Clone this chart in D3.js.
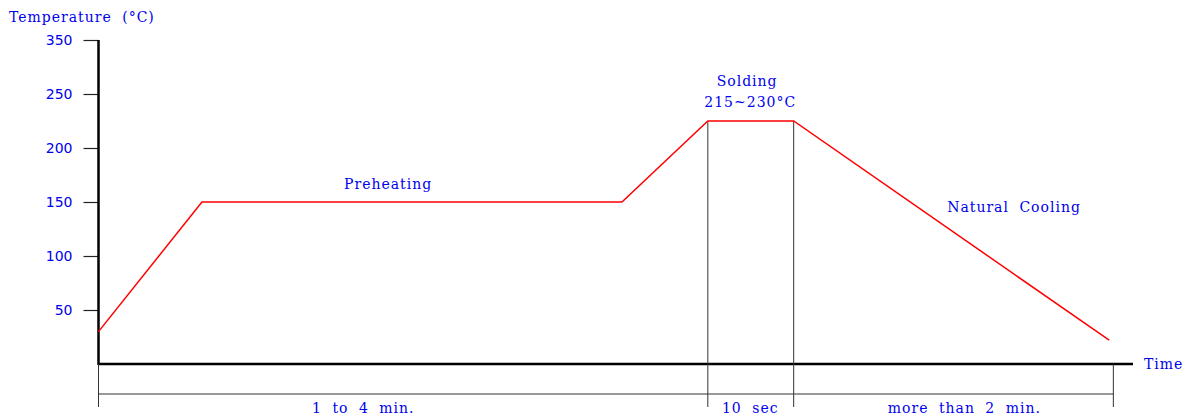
<!DOCTYPE html>
<html>
<head>
<meta charset="utf-8">
<script src="https://cdnjs.cloudflare.com/ajax/libs/d3/7.9.0/d3.min.js"></script>
<style>
  body { margin: 0; background: #fff; }
  text.rotulo { font-family: "DejaVu Serif", serif; fill: #0000ee; font-size: 14px; letter-spacing: 1px; word-spacing: 5px; }
</style>
</head>
<body>
<div id="grafico"></div>
<script>
// perfil de temperatura (tempo em unidades arbitrárias, 0..100)
const tempos       = [0, 10, 50.6, 58.9, 67.2, 97.7];
const temperaturas = [30, 150, 150, 225, 225, 22];

// ticks do eixo Y (o rótulo do topo aparece como 350 no original)
const ticksY   = [300, 250, 200, 150, 100, 50];
const rotulosY = ["350", "250", "200", "150", "100", "50"];

// marcas de intervalo abaixo do eixo do tempo
const marcasTempo = [0, 58.9, 67.2, 98.1];
const intervalos  = ["1 to 4 min.", "10 sec", "more than 2 min."];
const posIntervalos = [25.6, 63, 83.7]; // centro de cada rótulo (não fica no meio exato)

const LARGURA = 1192, ALTURA = 418;

const svg = d3.select("#grafico").append("svg")
  .attr("width", LARGURA)
  .attr("height", ALTURA);

const x = d3.scaleLinear().domain([0, 100]).range([98.5, 1133]);
const y = d3.scaleLinear().domain([0, 300]).range([364, 40]);

// eixo Y
const eixoY = d3.axisLeft(y)
  .tickValues(ticksY)
  .tickFormat((d, i) => rotulosY[i])
  .tickSize(15)
  .tickPadding(11);

const gY = svg.append("g").attr("transform", `translate(${x(0)},0)`).call(eixoY);
gY.select(".domain").remove();
gY.selectAll(".tick line").attr("stroke", "#222").attr("stroke-width", 1.2);
gY.selectAll(".tick text")
  .style("font-family", "'DejaVu Sans', sans-serif")
  .style("font-size", "14px")
  .attr("fill", "#0000ee");

svg.append("line")
  .attr("x1", x(0)).attr("x2", x(0))
  .attr("y1", y(300)).attr("y2", y(0) + 1)
  .attr("stroke", "#000").attr("stroke-width", 2.5);

// eixo do tempo
svg.append("line")
  .attr("x1", x(0)).attr("x2", x(100))
  .attr("y1", y(0)).attr("y2", y(0))
  .attr("stroke", "#000").attr("stroke-width", 2.5);

svg.append("text").attr("class", "rotulo")
  .attr("x", x(100) + 11).attr("y", y(0) + 5)
  .text("Time");

svg.append("text").attr("class", "rotulo")
  .attr("x", 9).attr("y", 22)
  .text("Temperature (°C)");

// linhas de cota
const yCota = 394;
svg.append("line")
  .attr("x1", x(marcasTempo[0])).attr("x2", x(marcasTempo[3]))
  .attr("y1", yCota).attr("y2", yCota)
  .attr("stroke", "#333").attr("stroke-width", 1);

marcasTempo.forEach((t, i) => {
  const topo = (i === 1 || i === 2) ? y(temperaturas[i + 2]) : y(0);
  svg.append("line")
    .attr("x1", x(t)).attr("x2", x(t))
    .attr("y1", topo).attr("y2", 407)
    .attr("stroke", "#333").attr("stroke-width", 1);
});

intervalos.forEach((rot, i) => {
  svg.append("text").attr("class", "rotulo")
    .attr("x", x(posIntervalos[i]))
    .attr("y", 413)
    .attr("text-anchor", "middle")
    .text(rot);
});

// curva de temperatura
const linha = d3.line()
  .x((d, i) => x(tempos[i]))
  .y(d => y(d));

svg.append("path")
  .datum(temperaturas)
  .attr("d", linha)
  .attr("fill", "none")
  .attr("stroke", "#ff0000")
  .attr("stroke-width", 1.5);

// anotações
const notas = [
  { t: 28, v: 162, txt: "Preheating" },
  { t: 62.7, v: 257, txt: "Solding" },
  { t: 63, v: 238, txt: "215~230°C" },
  { t: 88.5, v: 141, txt: "Natural Cooling" }
];
notas.forEach(n => {
  svg.append("text").attr("class", "rotulo")
    .attr("x", x(n.t)).attr("y", y(n.v))
    .attr("text-anchor", "middle")
    .text(n.txt);
});
</script>
</body>
</html>
